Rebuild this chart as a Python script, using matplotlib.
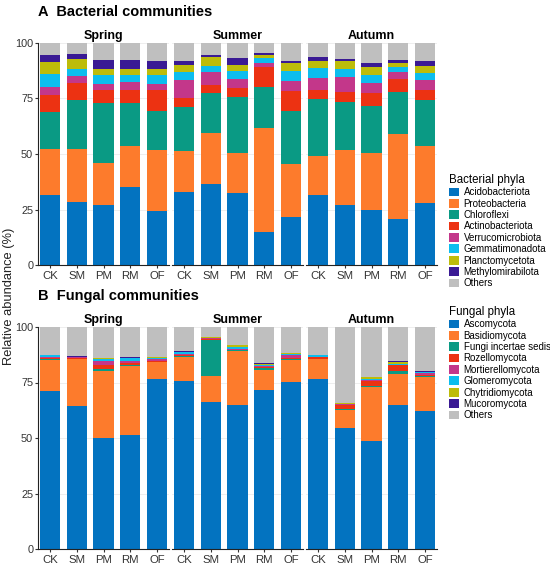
import matplotlib.pyplot as plt
import numpy as np
from matplotlib.patches import Patch

plt.rcParams['font.family'] = ['Liberation Sans', 'DejaVu Sans']

seasons = ['Spring', 'Summer', 'Autumn']
groups = ['CK', 'SM', 'PM', 'RM', 'OF']

# ---- bacterial phyla: cumulative tops (%), per season x group
bac_names = ['Acidobacteriota', 'Proteobacteria', 'Chloroflexi', 'Actinobacteriota',
             'Verrucomicrobiota', 'Gemmatimonadota', 'Planctomycetota',
             'Methylomirabilota', 'Others']
bac_colors = ['#0373c0', '#fd7b2c', '#0a9a84', '#ec3212', '#c3378a',
              '#0cbdee', '#bdbc0a', '#3a1a94', '#bfbfbf']

bac_tops = {
    'Spring': [[31.4, 52.4, 69.1, 76.6, 80.3, 86.0, 91.4, 94.6],
               [28.4, 52.3, 74.5, 82.0, 85.3, 88.4, 92.9, 94.9],
               [27.0, 45.8, 72.8, 79.0, 81.7, 85.4, 88.4, 92.5],
               [35.0, 53.5, 73.1, 79.0, 82.4, 85.4, 88.4, 92.5],
               [24.3, 51.7, 69.5, 78.8, 81.4, 85.4, 88.4, 91.7]],
    'Summer': [[33.0, 51.5, 71.3, 75.1, 83.5, 86.8, 89.9, 92.0],
               [36.3, 59.3, 77.3, 81.2, 87.1, 89.8, 93.5, 94.6],
               [32.4, 50.3, 75.8, 79.9, 83.9, 87.5, 90.1, 93.1],
               [14.9, 61.9, 80.0, 89.0, 90.8, 93.1, 94.4, 95.3],
               [21.8, 45.6, 69.2, 78.2, 83.0, 87.4, 91.0, 91.9]],
    'Autumn': [[31.4, 49.2, 74.9, 79.0, 84.2, 88.9, 91.9, 93.7],
               [26.9, 51.8, 73.4, 78.1, 84.8, 88.3, 91.7, 92.6],
               [24.9, 50.3, 71.8, 77.5, 82.0, 85.7, 89.0, 90.8],
               [20.9, 59.2, 78.1, 83.8, 86.8, 89.3, 91.0, 92.3],
               [27.8, 53.8, 74.3, 79.0, 83.5, 86.6, 89.5, 91.7]],
}

# ---- fungal phyla
fun_names = ['Ascomycota', 'Basidiomycota', 'Fungi incertae sedis', 'Rozellomycota',
             'Mortierellomycota', 'Glomeromycota', 'Chytridiomycota', 'Mucoromycota',
             'Others']
fun_colors = bac_colors

fun_tops = {
    'Spring': [[71.3, 85.3, 85.7, 86.0, 86.6, 87.2, 87.4, 87.5],
               [64.6, 85.6, 85.8, 86.0, 86.4, 86.6, 86.7, 86.8],
               [50.0, 80.2, 81.1, 82.9, 84.7, 85.6, 86.0, 86.1],
               [51.2, 82.3, 82.7, 83.8, 84.7, 85.9, 86.2, 86.4],
               [76.7, 84.1, 84.4, 84.9, 85.8, 86.2, 86.4, 86.5]],
    'Summer': [[75.7, 86.3, 87.1, 87.4, 87.8, 88.7, 88.9, 89.0],
               [66.4, 78.1, 94.3, 94.6, 94.9, 95.2, 95.4, 95.5],
               [65.0, 89.2, 89.6, 89.8, 90.2, 90.8, 91.7, 91.9],
               [71.5, 80.8, 81.4, 81.9, 82.6, 83.0, 83.2, 83.9],
               [75.2, 85.3, 85.6, 86.0, 87.5, 88.0, 88.3, 88.5]],
    'Autumn': [[76.6, 85.6, 85.8, 86.4, 86.7, 87.2, 87.4, 87.5],
               [54.5, 62.8, 63.2, 64.9, 65.1, 65.4, 65.6, 65.7],
               [48.8, 73.0, 73.6, 75.7, 76.0, 76.5, 77.3, 77.4],
               [65.0, 78.7, 80.2, 82.9, 83.1, 83.5, 84.4, 84.5],
               [62.0, 77.6, 77.9, 78.4, 79.1, 79.6, 79.8, 80.0]],
}


def tops_to_parts(tops):
    t = np.array([0] + tops + [100.0])
    return np.diff(t)


W, H = 550, 570
fig = plt.figure(figsize=(5.5, 5.7), dpi=100)

facet_left = [38, 172, 306]
facet_w = 131
panels = [(43, 265, bac_tops, bac_colors, 'A  Bacterial communities'),
          (327, 549, fun_tops, fun_colors, 'B  Fungal communities')]

x = np.arange(len(groups))
for top_px, bot_px, tops, colors, title in panels:
    for k, season in enumerate(seasons):
        ax = fig.add_axes([facet_left[k] / W, 1 - bot_px / H, facet_w / W, (bot_px - top_px) / H])
        parts = np.array([tops_to_parts(t) for t in tops[season]])  # groups x phyla
        bottom = np.zeros(len(groups))
        for j in range(parts.shape[1]):
            ax.bar(x, parts[:, j], width=0.75, bottom=bottom, color=colors[j], lw=0, zorder=2)
            bottom += parts[:, j]
        ax.set_xlim(-0.45, 4.45)
        ax.set_ylim(0, 100)
        ax.set_xticks(x)
        ax.set_xticklabels(groups, fontsize=8.2, color='#333333')
        ax.tick_params(axis='x', length=2, pad=2, color='#333333')
        ax.set_yticks([0, 25, 50, 75, 100])
        ax.grid(axis='y', color='#ebebeb', lw=0.6, zorder=0)
        ax.set_axisbelow(True)
        for s in ['top', 'right']:
            ax.spines[s].set_visible(False)
        ax.spines['bottom'].set_color('#222222')
        ax.spines['bottom'].set_linewidth(0.8)
        if k == 0:
            ax.spines['left'].set_color('#222222')
            ax.spines['left'].set_linewidth(0.8)
            ax.tick_params(axis='y', labelsize=7.8, length=2, pad=1.5, colors='#333333')
        else:
            ax.spines['left'].set_visible(False)
            ax.tick_params(axis='y', length=0, labelleft=False)
        ax.set_title(season, fontsize=9, fontweight='bold', pad=3)
    fig.text(38 / W, 1 - (top_px - 31) / H, title, fontsize=10.5, fontweight='bold',
             ha='left', va='center')

fig.text(9 / W, 1 - 296 / H, 'Relative abundance (%)', rotation=90, fontsize=9.3,
         ha='center', va='center', color='#222222')

# legends
for names, colors, ttl, y_px in [(bac_names, bac_colors, 'Bacterial phyla', 174),
                                 (fun_names, fun_colors, 'Fungal phyla', 306)]:
    handles = [Patch(facecolor=c, edgecolor='none') for c in colors]
    fig.legend(handles, names, loc='upper left', bbox_to_anchor=(449 / W, 1 - y_px / H),
               title=ttl, alignment='left', frameon=False, fontsize=7.0, title_fontsize=8.3,
               handlelength=1.0, handleheight=1.0, handletextpad=0.5, labelspacing=0.14,
               borderpad=0, borderaxespad=0)

fig.savefig('out.png', dpi=100)
